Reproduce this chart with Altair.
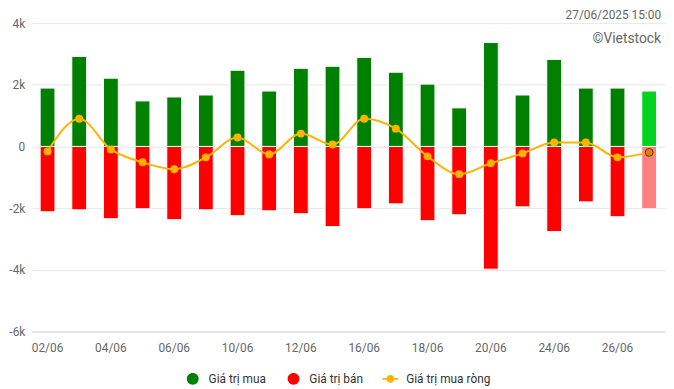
import altair as alt
import pandas as pd

dates = ["02/06", "03/06", "04/06", "05/06", "06/06", "09/06", "10/06", "11/06", "12/06", "13/06",
         "16/06", "17/06", "18/06", "19/06", "20/06", "23/06", "24/06", "25/06", "26/06", "27/06"]
buy = [1894, 2921, 2215, 1477, 1605, 1669, 2472, 1798, 2536, 2600,
       2889, 2408, 2022, 1252, 3371, 1669, 2825, 1894, 1894, 1798]
sell = [-2119, -2055, -2343, -2022, -2376, -2055, -2247, -2087, -2183, -2600,
        -2022, -1862, -2408, -2215, -3981, -1958, -2761, -1798, -2279, -2022]
net = [-160, 899, -96, -514, -738, -353, 289, -257, 417, 64,
       899, 578, -321, -899, -546, -225, 128, 128, -353, -193]
x_labels = dates[::2]
series = ["Giá trị mua", "Giá trị bán", "Giá trị mua ròng"]
series_colors = ["#008000", "#FF0000", "#FFB300"]
stamp = "27/06/2025 15:00"
brand = "©Vietstock"
last_date = dates[-1]

W, H = 641, 312
FONT = "Roboto"

df = pd.DataFrame({"date": dates, "buy": buy, "sell": sell, "net": net})

x_enc = alt.X(
    "date:N", sort=dates, title=None,
    scale=alt.Scale(paddingInner=0, paddingOuter=0),
    axis=alt.Axis(values=x_labels, labelAngle=0, ticks=False, domain=True,
                  domainColor="#ccd6eb", labelColor="#666666", labelFontSize=12,
                  labelFont=FONT, labelPadding=11, grid=False),
)
y_scale = alt.Scale(domain=[-6000, 4000], nice=False)
y_axis = alt.Axis(values=[-6000, -4000, -2000, 0, 2000, 4000], ticks=False, domain=False,
                  gridColor="#e6e6e6", labelColor="#666666", labelFontSize=12, labelFont=FONT,
                  labelPadding=7,
                  labelExpr="datum.value == 0 ? '0' : (datum.value/1000) + 'k'")

is_last = alt.datum.date == last_date

base = alt.Chart(df).encode(x=x_enc)

buy_bars = base.mark_bar(size=15, stroke="white", strokeWidth=1).encode(
    y=alt.Y("buy:Q", scale=y_scale, axis=y_axis, title=None),
    color=alt.condition(is_last, alt.value("#00D41E"), alt.value("#008000")),
)
sell_bars = base.mark_bar(size=15, stroke="white", strokeWidth=1).encode(
    y=alt.Y("sell:Q"),
    color=alt.condition(is_last, alt.value("#FF8080"), alt.value("#FF0000")),
)
line = base.mark_line(interpolate="monotone", color="#FFB300", strokeWidth=2).encode(
    y=alt.Y("net:Q")
)
points = base.mark_circle(size=64, opacity=1, stroke="#5a3a10", strokeWidth=1).encode(
    y=alt.Y("net:Q"),
    color=alt.condition(is_last, alt.value("#EE7A0C"), alt.value("#FFB300")),
    strokeOpacity=alt.condition(is_last, alt.value(1), alt.value(0)),
)

circle_path = "M-0.75,0A0.75,0.75,0,1,1,0.75,0A0.75,0.75,0,1,1,-0.75,0Z"
linedot_path = ("M-1,-0.12L1,-0.12L1,0.12L-1,0.12Z "
                "M-0.5,0A0.5,0.5,0,1,1,0.5,0A0.5,0.5,0,1,1,-0.5,0Z")
legend_df = pd.DataFrame({"series": series, "v": [None, None, None]})
leg = alt.Legend(title=None, orient="none", legendX=155, legendY=352, direction="horizontal",
                 symbolSize=256, symbolStrokeWidth=0, labelFont=FONT, labelFontSize=12,
                 labelColor="#333333", labelOffset=8, columnPadding=19)
legend_layer = alt.Chart(legend_df).mark_point(filled=True, opacity=1).encode(
    y=alt.Y("v:Q"),
    color=alt.Color("series:N", sort=series,
                    scale=alt.Scale(domain=series, range=series_colors), legend=leg),
    shape=alt.Shape("series:N", sort=series,
                    scale=alt.Scale(domain=series, range=[circle_path, circle_path, linedot_path]),
                    legend=leg),
)

stamp_text = alt.Chart(pd.DataFrame({"t": [stamp]})).mark_text(
    align="right", baseline="middle", fontSize=12, font=FONT, color="#666666"
).encode(text="t:N", x=alt.value(637), y=alt.value(-8))
brand_text = alt.Chart(pd.DataFrame({"t": [brand]})).mark_text(
    align="right", baseline="middle", fontSize=14, font=FONT, color="#666666"
).encode(text="t:N", x=alt.value(637), y=alt.value(16))

chart = alt.layer(buy_bars, sell_bars, line, points, legend_layer, stamp_text, brand_text).properties(
    width=W, height=H,
    autosize=alt.AutoSizeParams(type="none"),
    padding={"left": 24, "top": 13, "right": 1, "bottom": 60},
).configure_view(stroke=None)

chart.save("out.html", embed_options={"renderer": "svg", "actions": False})
